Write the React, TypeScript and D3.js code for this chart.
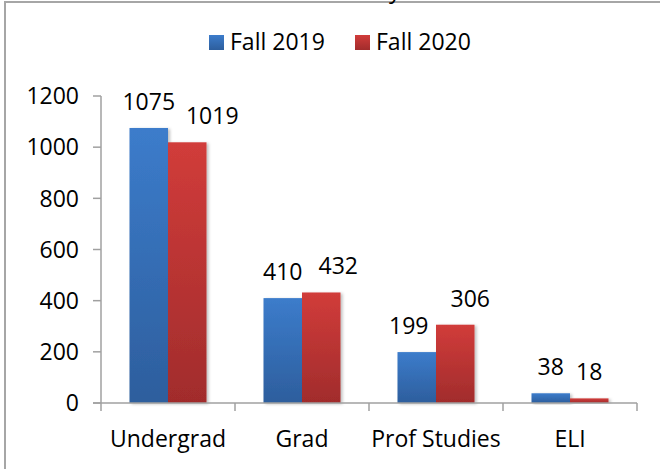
import React from "react";
import * as d3 from "d3";

const categories = ["Undergrad", "Grad", "Prof Studies", "ELI"];
const seriesNames = ["Fall 2019", "Fall 2020"];
const fall2019 = [1075, 410, 199, 38];
const fall2020 = [1019, 432, 306, 18];
const yTicks = [0, 200, 400, 600, 800, 1000, 1200];
// manual label nudges (as placed in the original chart)
const labelDx2019 = [0, 0, -8, 0];
const labelDx2020 = [25, 17, 15, 0];

const W = 660;
const H = 469;
const FONT = "'Open Sans', 'DejaVu Sans', sans-serif";

export default function App() {
  const x = d3.scaleBand<string>().domain(categories).range([101, 637]).paddingInner(0).paddingOuter(0);
  const xs = d3.scaleBand<string>().domain(seriesNames).range([0, x.bandwidth()]).paddingInner(0).paddingOuter(0.74);
  const y = d3.scaleLinear().domain([0, 1200]).range([403, 96]);

  const series = [
    { name: seriesNames[0], values: fall2019, dx: labelDx2019, grad: "gBlue", legend: "#3a78c3" },
    { name: seriesNames[1], values: fall2020, dx: labelDx2020, grad: "gRed", legend: "#c93836" },
  ];

  const boundaries = [...categories.map((c) => x(c) as number), x.range()[1]];

  return (
    <div style={{ position: "fixed", left: 0, top: 0 }}>
      <svg width={W} height={H} style={{ display: "block", background: "#fff" }}>
        <defs>
          <linearGradient id="gBlue" x1="0" y1="0" x2="0" y2="1">
            <stop offset="0" stopColor="#3c7ccb" />
            <stop offset="1" stopColor="#2d5e9d" />
          </linearGradient>
          <linearGradient id="gRed" x1="0" y1="0" x2="0" y2="1">
            <stop offset="0" stopColor="#d13c3a" />
            <stop offset="1" stopColor="#a12c2c" />
          </linearGradient>
          <filter id="shadow" x="-20%" y="-20%" width="150%" height="140%">
            <feDropShadow dx="2" dy="1" stdDeviation="1.5" floodColor="#000" floodOpacity="0.25" />
          </filter>
        </defs>

        {/* chart border */}
        <rect x={5} y={2} width={W + 10} height={H + 10} fill="none" stroke="#a6a6a6" strokeWidth={2} />

        {/* clipped title descender */}
        <text x={395} y={-2} fontFamily={FONT} fontSize={24} textAnchor="middle" fill="#000">y</text>

        {/* legend */}
        {series.map((s, i) => {
          const lx = i === 0 ? 209 : 355;
          return (
            <g key={s.name}>
              <rect x={lx} y={35} width={15} height={15} fill={`url(#${s.grad})`} />
              <text x={lx + 21} y={50} fontFamily={FONT} fontSize={23} fill="#000">{s.name}</text>
            </g>
          );
        })}

        {/* bars */}
        {series.map((s) =>
          categories.map((c, j) => {
            const bx = (x(c) as number) + (xs(s.name) as number);
            const by = y(s.values[j]);
            return (
              <rect
                key={s.name + c}
                x={bx}
                y={by}
                width={xs.bandwidth()}
                height={y(0) - by}
                fill={`url(#${s.grad})`}
                filter="url(#shadow)"
              />
            );
          })
        )}

        {/* axes */}
        <line x1={101} y1={y(1200)} x2={101} y2={y(0)} stroke="#a0a0a0" strokeWidth={1.5} />
        {yTicks.map((t) => (
          <g key={t}>
            <line x1={93} x2={101} y1={y(t)} y2={y(t)} stroke="#a0a0a0" strokeWidth={1.5} />
            <text x={79} y={y(t)} dy="0.36em" textAnchor="end" fontFamily={FONT} fontSize={23} fill="#000">{t}</text>
          </g>
        ))}
        <line x1={93} y1={y(0)} x2={x.range()[1]} y2={y(0)} stroke="#a0a0a0" strokeWidth={1.5} />
        {boundaries.map((b, i) => (
          <line key={i} x1={b} x2={b} y1={y(0)} y2={y(0) + 8} stroke="#a0a0a0" strokeWidth={1.5} />
        ))}
        {categories.map((c) => (
          <text
            key={c}
            x={(x(c) as number) + x.bandwidth() / 2}
            y={447}
            textAnchor="middle"
            fontFamily={FONT}
            fontSize={23}
            fill="#000"
          >
            {c}
          </text>
        ))}

        {/* data labels */}
        {series.map((s) =>
          categories.map((c, j) => {
            const cx = (x(c) as number) + (xs(s.name) as number) + xs.bandwidth() / 2 + s.dx[j];
            return (
              <text
                key={"l" + s.name + c}
                x={cx}
                y={y(s.values[j]) - 18}
                textAnchor="middle"
                fontFamily={FONT}
                fontSize={23}
                fill="#000"
              >
                {s.values[j]}
              </text>
            );
          })
        )}
      </svg>
    </div>
  );
}
